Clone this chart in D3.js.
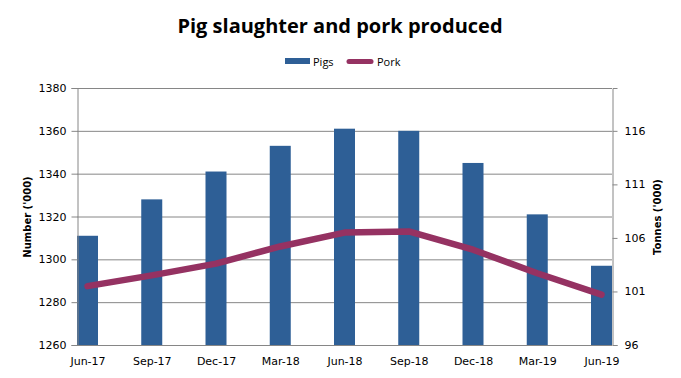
<!DOCTYPE html>
<html><head><meta charset="utf-8">
<script src="https://cdn.jsdelivr.net/npm/d3@7"></script>
<style>body{margin:0;background:#fff}svg{display:block}</style>
</head><body><svg id="c" width="681" height="378"></svg>
<script>
const categories = ["Jun-17","Sep-17","Dec-17","Mar-18","Jun-18","Sep-18","Dec-18","Mar-19","Jun-19"];
const pigs = [1311, 1328, 1341, 1353, 1361, 1360, 1345, 1321, 1297];
const pork = [101.5, 102.5, 103.6, 105.2, 106.5, 106.6, 104.9, 102.7, 100.7];
const leftTicks = [1260,1280,1300,1320,1340,1360,1380];
const rightTicks = [96,101,106,111,116];

const svg = d3.select("#c");
const L = 77, R = 612, T = 88, B = 345, barW = 21;
const x = d3.scalePoint().domain(categories).range([L + barW/2, R - barW/2]);
const yL = d3.scaleLinear().domain([1260,1380]).range([B,T]);
const yR = d3.scaleLinear().domain([96,120]).range([B,T]);
const font = "DejaVu Sans, Verdana, sans-serif";
const grey = "#868686";

// gridlines
svg.append("g").selectAll("line").data(leftTicks).join("line")
  .attr("x1", L).attr("x2", R).attr("y1", d=>yL(d)+0.5).attr("y2", d=>yL(d)+0.5)
  .attr("stroke", grey).attr("stroke-width",1);

// bars
svg.append("g").selectAll("rect").data(pigs).join("rect")
  .attr("x",(d,i)=>x(categories[i])-barW/2).attr("width",barW)
  .attr("y",d=>yL(d)).attr("height",d=>B-yL(d)).attr("fill","#2E5F96");

// axes
const gL = svg.append("g").attr("transform",`translate(${L+0.5},0)`)
  .call(d3.axisLeft(yL).tickValues(leftTicks).tickFormat(d3.format("d")).tickSize(6).tickPadding(5));
const gR = svg.append("g").attr("transform",`translate(${R+0.5},0)`)
  .call(d3.axisRight(yR).tickValues(rightTicks).tickFormat(d3.format("d")).tickSize(5).tickPadding(7));
const gX = svg.append("g").attr("transform",`translate(0,${B+0.5})`)
  .call(d3.axisBottom(x).tickSize(0).tickPadding(12));
gX.select(".domain").attr("d",`M${L},0H${R}`);
[gL,gR,gX].forEach(g=>{
  g.selectAll("path,line").attr("stroke",grey);
  g.selectAll("text").attr("font-family",font).attr("font-size","11px").attr("fill","#000");
});

// line
svg.append("path").datum(pork)
  .attr("d", d3.line().x((d,i)=>x(categories[i])).y(d=>yR(d)))
  .attr("fill","none").attr("stroke","#953262").attr("stroke-width",6.5)
  .attr("stroke-linecap","round").attr("stroke-linejoin","round");

// title
svg.append("text").attr("x",340).attr("y",33).attr("text-anchor","middle")
  .attr("font-family","Open Sans, sans-serif").attr("font-weight","bold").attr("font-size","20px")
  .text("Pig slaughter and pork produced");

// legend
svg.append("rect").attr("x",285).attr("y",58).attr("width",25).attr("height",6).attr("fill","#2E5F96");
svg.append("text").attr("x",313).attr("y",66).attr("font-family","Open Sans, sans-serif").attr("font-size","11px").text("Pigs");
svg.append("line").attr("x1",349).attr("x2",371).attr("y1",61.5).attr("y2",61.5)
  .attr("stroke","#953262").attr("stroke-width",5).attr("stroke-linecap","round");
svg.append("text").attr("x",377).attr("y",66).attr("font-family","Open Sans, sans-serif").attr("font-size","11px").text("Pork");

// axis titles
svg.append("text").attr("transform","translate(31,217) rotate(-90)").attr("text-anchor","middle")
  .attr("font-family",font).attr("font-weight","bold").attr("font-size","10px").text("Number ('000)");
svg.append("text").attr("transform","translate(661,217) rotate(-90)").attr("text-anchor","middle")
  .attr("font-family",font).attr("font-weight","bold").attr("font-size","10px").text("Tonnes ('000)");
</script></body></html>
